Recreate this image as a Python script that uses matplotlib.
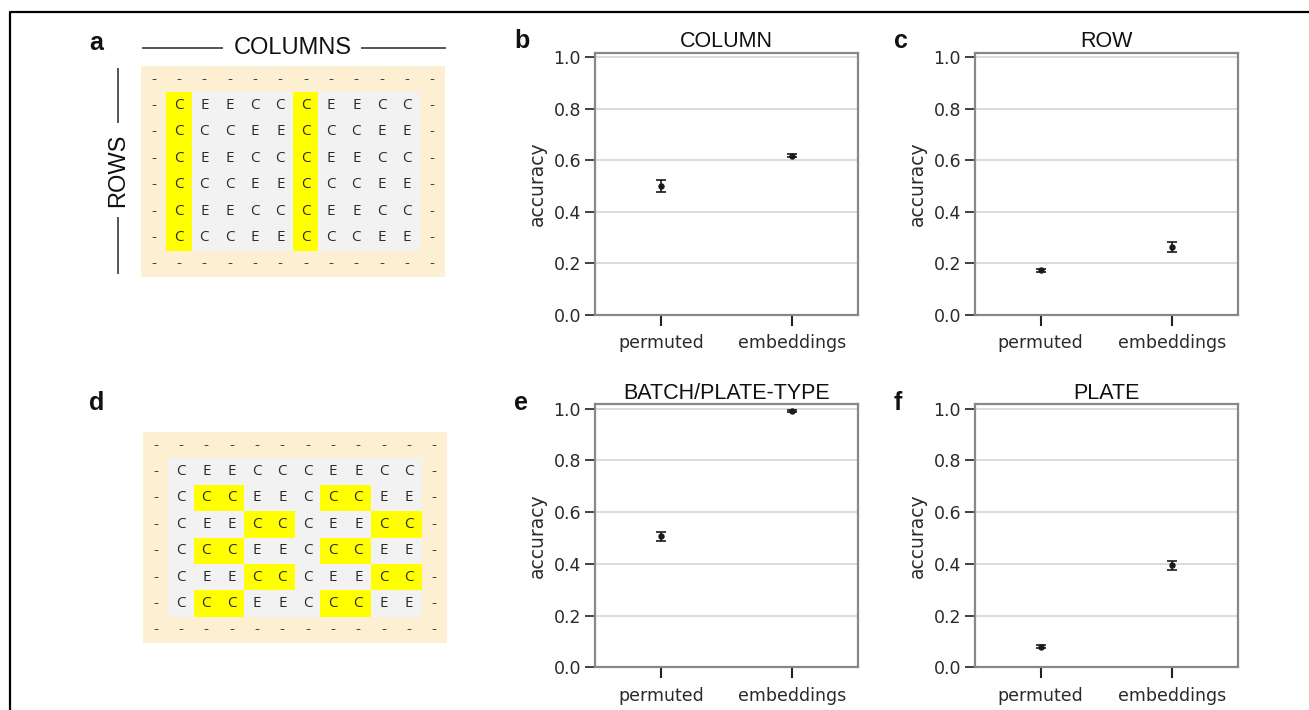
import matplotlib
matplotlib.use("Agg")
import matplotlib.pyplot as plt
from matplotlib.patches import Rectangle

# ---- data ----
groups = ["permuted", "embeddings"]

panels = ["b", "c", "e", "f"]
titles = ["COLUMN", "ROW", "BATCH/PLATE-TYPE", "PLATE"]
means = [[0.500, 0.617],
         [0.174, 0.263],
         [0.506, 0.992],
         [0.080, 0.394]]
errs = [[0.023, 0.006],
        [0.006, 0.020],
        [0.016, 0.003],
        [0.006, 0.017]]
yticks = [0.0, 0.2, 0.4, 0.6, 0.8, 1.0]

# plate layout (inner 6 x 10 wells), same in both diagrams
plate_rows = ["CEECCCEECC",
              "CCCEECCCEE",
              "CEECCCEECC",
              "CCCEECCCEE",
              "CEECCCEECC",
              "CCCEECCCEE"]
# highlighted wells per inner row (column indexes)
hl_a = [[0, 5]] * 6
hl_d = [[], [1, 2, 6, 7], [3, 4, 8, 9], [1, 2, 6, 7], [3, 4, 8, 9], [1, 2, 6, 7]]

W, H = 1309, 710


def px(l, t, r, b):
    return [l / W, 1 - b / H, (r - l) / W, (b - t) / H]


fig = plt.figure(figsize=(W / 100, H / 100), dpi=100)

# overlay in pixel coords for frame, labels, letters
ov = fig.add_axes([0, 0, 1, 1], zorder=-5)
ov.set_xlim(0, W)
ov.set_ylim(H, 0)
ov.axis("off")
ov.plot([10, 10, W], [H, 12, 12], color="black", lw=1.6)

letter_pos = {"a": (89, 50), "d": (89, 410), "b": (514, 48), "c": (894, 48),
              "e": (514, 410), "f": (894, 410)}
for k, (x, y) in letter_pos.items():
    ov.text(x, y, k, fontsize=18, fontweight="bold", family="Liberation Sans",
            ha="left", va="baseline", color="#111")

ov.text(293, 48, "COLUMNS", fontsize=17, family="Liberation Sans",
        ha="center", va="center", color="#111")
ov.plot([143, 222], [48, 48], color="#555", lw=1.4)
ov.plot([362, 445], [48, 48], color="#555", lw=1.4)
ov.text(118, 170, "ROWS", fontsize=17, family="Liberation Sans", rotation=90,
        ha="center", va="center", color="#111")
ov.plot([118, 118], [69, 122], color="#555", lw=1.4)
ov.plot([118, 118], [218, 273], color="#555", lw=1.4)


def draw_plate(ax, hl):
    ax.set_xlim(-0.5, 11.5)
    ax.set_ylim(7.5, -0.5)
    ax.axis("off")
    ax.add_patch(Rectangle((-0.5, -0.5), 12, 8, color="#fdf0d2", lw=0))
    ax.add_patch(Rectangle((0.5, 0.5), 10, 6, color="#f2f2f2", lw=0))
    for r in range(8):
        for c in range(12):
            if r in (0, 7) or c in (0, 11):
                ax.text(c, r, "-", ha="center", va="center", fontsize=11,
                        color="#444", family="Open Sans")
    for r, row in enumerate(plate_rows):
        for c, ch in enumerate(row):
            if c in hl[r]:
                ax.add_patch(Rectangle((c + 0.5, r + 0.5), 1, 1,
                                       color="#ffff00", lw=0))
            ax.text(c + 1, r + 1, ch, ha="center", va="center", fontsize=11,
                    color="#2a2a2a", family="Open Sans")


draw_plate(fig.add_axes(px(141, 66, 445, 277)), hl_a)
draw_plate(fig.add_axes(px(143, 432, 447, 643)), hl_d)

boxes = [(595, 52.7, 858, 315), (975, 52.7, 1238, 315),
         (595, 404.3, 858, 667.3), (975, 404.3, 1238, 667.3)]

for i in range(4):
    ax = fig.add_axes(px(*boxes[i]))
    xs = list(range(len(groups)))
    ax.errorbar(xs, means[i], yerr=errs[i], fmt="o", color="#1a1a1a",
                ms=3.6, capsize=3.3, elinewidth=1.2, capthick=1.2)
    ax.set_xlim(-0.5, 1.5)
    ax.set_ylim(0, 1.017)
    ax.set_yticks(yticks)
    ax.set_yticklabels([f"{v:.1f}" for v in yticks])
    ax.set_xticks(xs)
    ax.set_xticklabels(groups)
    ax.yaxis.grid(True, color="#d9d9d9", lw=1.3)
    ax.set_axisbelow(True)
    for s in ax.spines.values():
        s.set_color("#888888")
        s.set_linewidth(1.6)
    ax.tick_params(axis="y", length=7, width=1.3, color="#333", pad=3,
                   labelsize=12.5, labelcolor="#2a2a2a")
    ax.tick_params(axis="x", length=8, width=1.5, color="#222", pad=6,
                   labelsize=12.5, labelcolor="#2a2a2a")
    ax.set_ylabel("accuracy", fontsize=13.5, color="#2a2a2a", labelpad=5)
    ax.set_title(titles[i], fontsize=15.5, family="Liberation Sans",
                 color="#111", pad=4)

fig.savefig("out.png", dpi=100)
